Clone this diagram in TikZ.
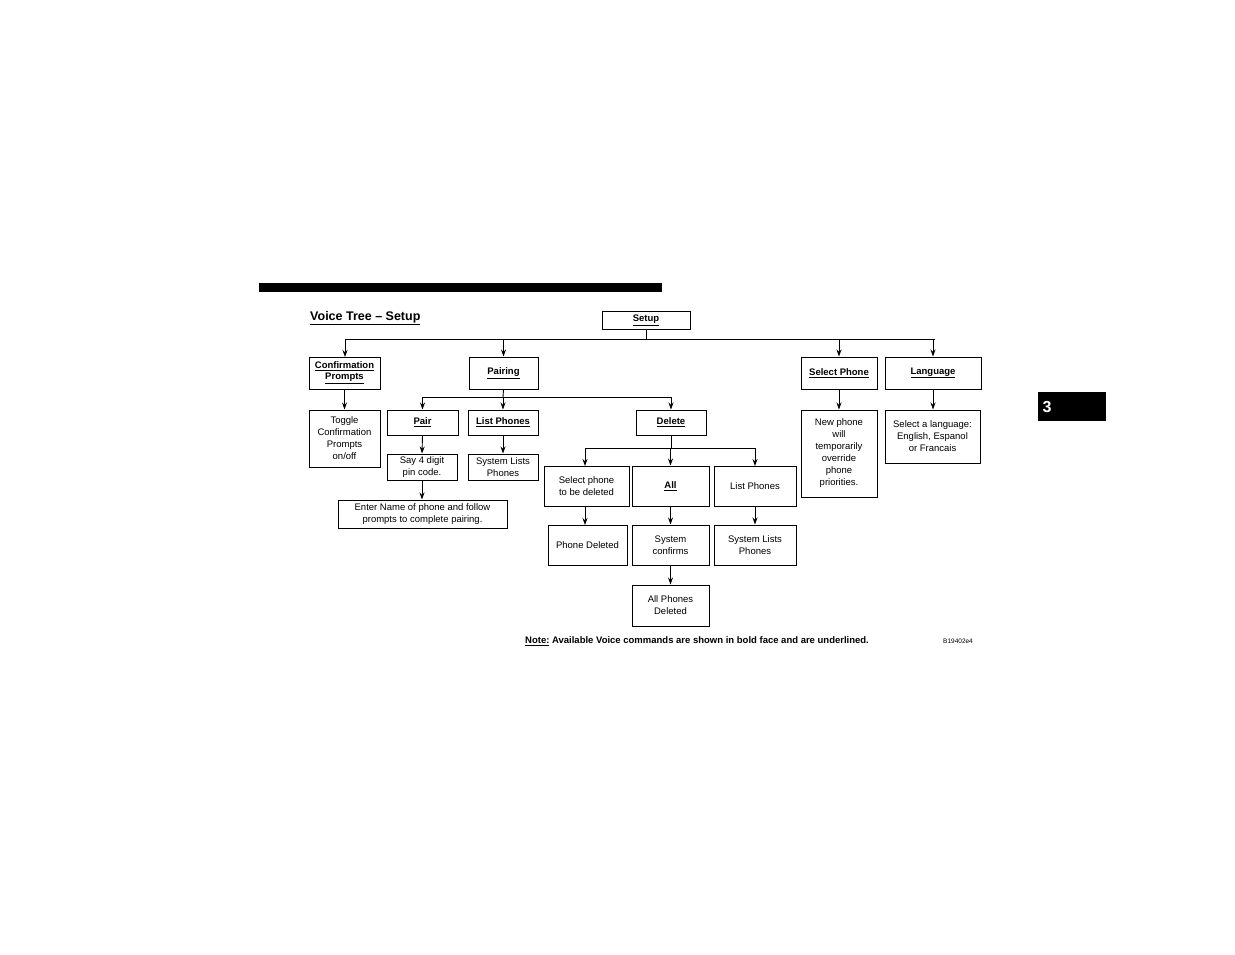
\documentclass[tikz,border=0pt]{standalone}
\usepackage{fontspec}
\setmainfont{Liberation Sans}
\usetikzlibrary{arrows.meta}
\begin{document}
\begin{tikzpicture}[x=1pt,y=-1pt,
  box/.style={draw,line width=1pt,inner sep=0pt,align=center,font=\fontsize{9.5}{12}\selectfont},
  arr/.style={-{Stealth[length=7pt,width=5pt]},line width=0.9pt},
  ln/.style={line width=0.9pt}]
\useasboundingbox (0,0) rectangle (1235,954);
\newcommand{\bx}[6]{\node[box,minimum width={#4-#2},minimum height={#5-#3}] (#1) at ({(#2+#4)/2},{(#3+#5)/2}) {#6};}
\newcommand{\cm}[1]{\textbf{\underline{#1}}}
\fill (259,283) rectangle (662,292);
\fill (1038,392) rectangle (1106,421);
\node[text=white,font=\fontsize{16}{16}\selectfont\bfseries] (tab) at (1047,407) {3};
\node[anchor=west,inner sep=0pt,font=\fontsize{12.5}{14}\selectfont\bfseries] (title) at (310,318) {\underline{Voice Tree – Setup}};
\bx{setup}{602}{311}{690}{329}{\cm{Setup}}
\bx{conf}{309}{357}{380}{389}{\cm{Confirmation}\\[-1pt]\cm{Prompts}}
\bx{pairing}{469}{357}{538}{389}{\cm{Pairing}}
\bx{selph}{801}{357}{877}{389}{\cm{Select Phone}}
\bx{lang}{885}{357}{981}{389}{\cm{Language}}
\bx{toggle}{309}{410}{380}{467}{Toggle\\Confirmation\\Prompts\\on/off}
\bx{pair}{387}{410}{458}{435}{\cm{Pair}}
\bx{listp}{468}{410}{538}{435}{\cm{List Phones}}
\bx{delete}{636}{410}{706}{435}{\cm{Delete}}
\bx{say}{387}{454}{457}{480}{Say 4 digit\\pin code.}
\bx{sysl}{468}{454}{538}{480}{System Lists\\Phones}
\bx{enter}{338}{500}{507}{528}{Enter Name of phone and follow\\prompts to complete pairing.}
\bx{seldel}{544}{466}{629}{506}{Select phone\\to be deleted}
\bx{all}{632}{466}{709}{506}{\cm{All}}
\bx{listp2}{714}{466}{796}{506}{List Phones}
\bx{phdel}{548}{525}{627}{565}{Phone Deleted}
\bx{syscon}{632}{525}{709}{565}{System\\confirms}
\bx{sysl2}{714}{525}{796}{565}{System Lists\\Phones}
\bx{alldel}{632}{585}{709}{626}{All Phones\\Deleted}
\bx{newph}{801}{410}{877}{497}{New phone\\will\\temporarily\\override\\phone\\priorities.}
\bx{sellang}{885}{410}{980}{463}{Select a language:\\English, Espanol\\or Francais}
\node[anchor=west,inner sep=0pt,font=\fontsize{9.5}{12}\selectfont\bfseries] (note) at (525,641) {\underline{Note:} Available Voice commands are shown in bold face and are underlined.};
\node[anchor=west,inner sep=0pt,font=\fontsize{6.5}{8}\selectfont] (code) at (943,641) {B19402e4};
% connectors
\coordinate (j1) at (646,339);
\draw[ln] (setup.south) -- (j1);
\draw[ln] (345,339) -- (935,339);
\draw[arr] (345,339) -- (345,357);
\draw[arr] (pairing.north |- j1) -- (pairing.north);
\draw[arr] (selph.north |- j1) -- (selph.north);
\draw[arr] (lang.north |- j1) -- (lang.north);
\draw[arr] (conf.south) -- (toggle.north);
\coordinate (j2) at (503,397);
\draw[ln] (pairing.south) -- (j2);
\draw[ln] (pair.north |- j2) -- (delete.north |- j2);
\draw[arr] (pair.north |- j2) -- (pair.north);
\draw[arr] (listp.north |- j2) -- (listp.north);
\draw[arr] (delete.north |- j2) -- (delete.north);
\draw[arr] (pair.south) -- (say.north);
\draw[arr] (listp.south) -- (sysl.north);
\draw[arr] (say.south) -- (say.south |- enter.north);
\coordinate (j3) at (671,448);
\draw[ln] (delete.south) -- (j3);
\draw[ln] (585,448) -- (755,448);
\draw[arr] (585,448) -- (585,466);
\draw[arr] (all.north |- j3) -- (all.north);
\draw[arr] (755,448) -- (755,466);
\draw[arr] (585,506) -- (585,525);
\draw[arr] (all.south) -- (syscon.north);
\draw[arr] (listp2.south) -- (sysl2.north);
\draw[arr] (syscon.south) -- (alldel.north);
\draw[arr] (selph.south) -- (newph.north);
\draw[arr] (lang.south) -- (lang.south |- sellang.north);
\end{tikzpicture}
\end{document}
